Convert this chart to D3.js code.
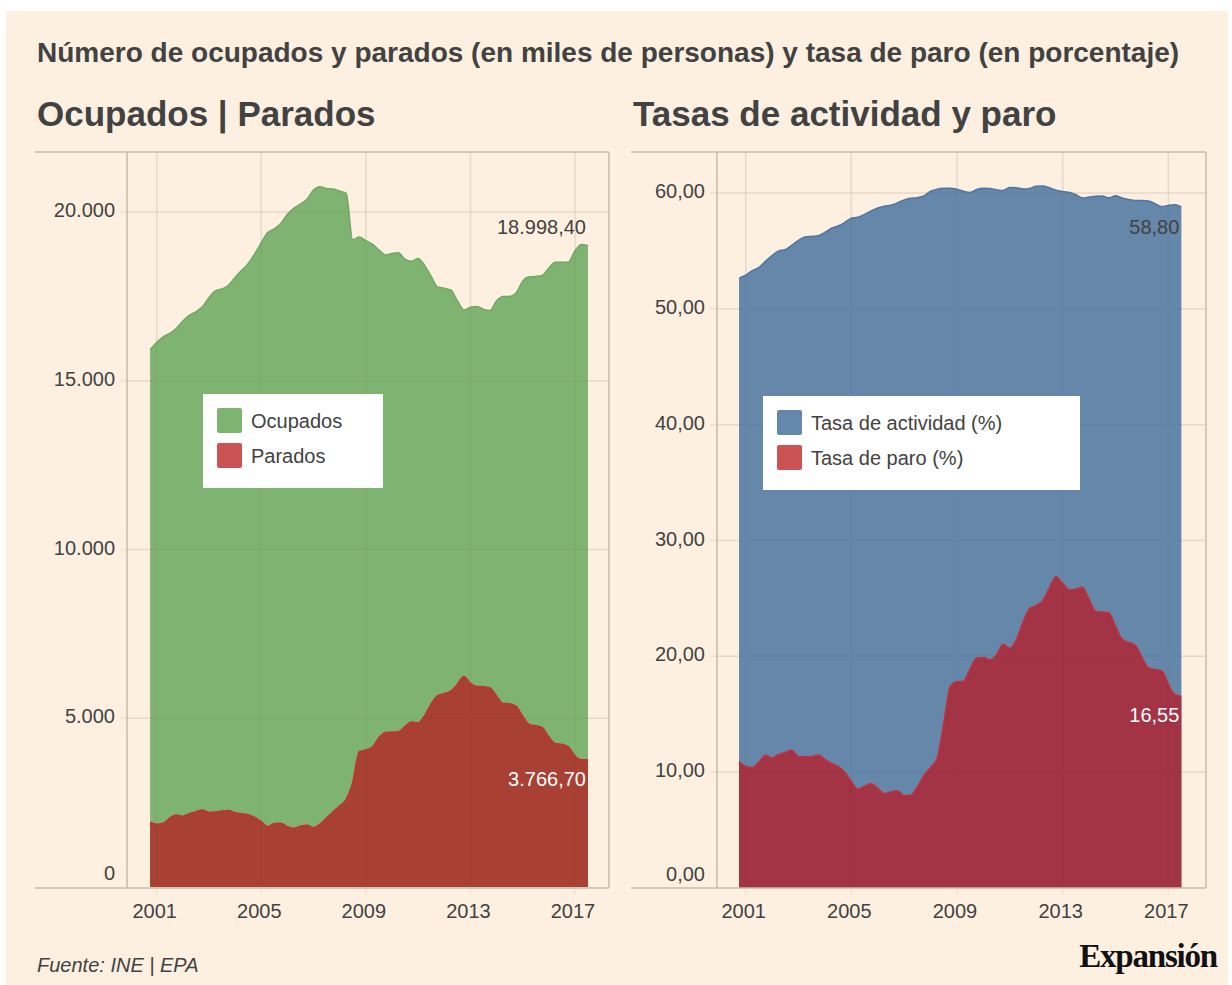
<!DOCTYPE html>
<html>
<head>
<meta charset="utf-8">
<script src="https://cdn.jsdelivr.net/npm/d3@7"></script>
<style>
    html, body { margin: 0; padding: 0; background: #ffffff; }
    svg { display: block; }
    text { font-family: "Liberation Sans", Arial, sans-serif; }
</style>
</head>
<body>
<svg id="chart"></svg>
<script>
// Quarters of the EPA survey (T = trimestre)
const quarters = [
    '2000T4',
    '2001T1', '2001T2', '2001T3', '2001T4', '2002T1', '2002T2', '2002T3', '2002T4',
    '2003T1', '2003T2', '2003T3', '2003T4', '2004T1', '2004T2', '2004T3', '2004T4',
    '2005T1', '2005T2', '2005T3', '2005T4', '2006T1', '2006T2', '2006T3', '2006T4',
    '2007T1', '2007T2', '2007T3', '2007T4', '2008T1', '2008T2', '2008T3', '2008T4',
    '2009T1', '2009T2', '2009T3', '2009T4', '2010T1', '2010T2', '2010T3', '2010T4',
    '2011T1', '2011T2', '2011T3', '2011T4', '2012T1', '2012T2', '2012T3', '2012T4',
    '2013T1', '2013T2', '2013T3', '2013T4', '2014T1', '2014T2', '2014T3', '2014T4',
    '2015T1', '2015T2', '2015T3', '2015T4', '2016T1', '2016T2', '2016T3', '2016T4',
    '2017T1', '2017T2', '2017T3'
]

// miles de personas
const ocupados = [
    15920,
    16130, 16300, 16400, 16550, 16770, 16940, 17040, 17190,
    17460, 17660, 17720, 17830, 18060, 18270, 18470, 18760,
    19090, 19390, 19500, 19660, 19930, 20110, 20230, 20380,
    20650, 20750, 20700, 20680, 20620, 20550, 19180, 19260,
    19150, 19050, 18880, 18726, 18770, 18790, 18600, 18540,
    18620, 18420, 18100, 17780, 17740, 17689, 17380, 17096,
    17180, 17200, 17120, 17080, 17370, 17500, 17500, 17600,
    17950, 18080, 18090, 18120, 18340, 18509, 18509, 18520,
    18850, 19040, 18998.4
]
const parados = [
    1920,
    1860, 1890, 2040, 2130, 2100, 2175, 2230, 2280,
    2210, 2220, 2255, 2270, 2200, 2170, 2140, 2060,
    1930, 1790, 1880, 1890, 1790, 1740, 1800, 1830,
    1758, 1860, 2040, 2230, 2400, 2600, 3100, 4010,
    4060, 4150, 4420, 4580, 4590, 4600, 4760, 4890,
    4860, 5080, 5420, 5670, 5730, 5807, 6000, 6240,
    6034, 5940, 5936, 5900, 5660, 5440, 5430, 5350,
    5060, 4820, 4780, 4720, 4450, 4250, 4230, 4150,
    3880, 3770, 3766.7
]
// porcentaje
const tasaActividad = [
    52.65,
    52.90, 53.30, 53.55, 54.10, 54.60, 55.00, 55.10, 55.50,
    55.90, 56.20, 56.25, 56.30, 56.60, 56.96, 57.15, 57.45,
    57.83, 57.91, 58.15, 58.45, 58.70, 58.85, 58.95, 59.15,
    59.40, 59.55, 59.60, 59.75, 60.15, 60.32, 60.40, 60.42,
    60.32, 60.15, 60.05, 60.30, 60.42, 60.38, 60.28, 60.22,
    60.48, 60.45, 60.35, 60.40, 60.58, 60.60, 60.45, 60.25,
    60.12, 60.07, 59.85, 59.56, 59.65, 59.72, 59.74, 59.58,
    59.76, 59.58, 59.45, 59.35, 59.36, 59.30, 59.08, 58.84,
    58.93, 58.98, 58.80
]
const tasaParo = [
    10.91,
    10.50, 10.40, 10.85, 11.45, 11.22, 11.52, 11.70, 11.90,
    11.34, 11.34, 11.34, 11.49, 11.10, 10.75, 10.50, 10.00,
    9.20, 8.52, 8.80, 9.00, 8.60, 8.15, 8.30, 8.40,
    7.97, 8.00, 8.70, 9.70, 10.40, 11.20, 14.20, 17.40,
    17.80, 17.85, 18.90, 19.85, 19.89, 19.69, 20.12, 21.04,
    20.70, 21.42, 22.90, 24.10, 24.40, 24.80, 25.90, 26.88,
    26.30, 25.75, 25.80, 25.96, 24.90, 23.90, 23.82, 23.77,
    22.60, 21.50, 21.20, 20.95, 19.95, 19.00, 18.85, 18.76,
    17.60, 16.70, 16.55
]

const yearTicks = [2001, 2005, 2009, 2013, 2017]
const leftTicks = [0, 5000, 10000, 15000, 20000]
const rightTicks = [0, 10, 20, 30, 40, 50, 60]

const W = 1232, H = 985
const textColor = '#424242'
const frameColor = '#c9bba9'
const gridColor = '#efe2d2'

let es = d3.formatLocale({decimal: ',', thousands: '.', grouping: [3], currency: ['', '€']})

let parseQuarter = q => {
    let y = +q.slice(0, 4), t = +q.slice(5)
    return new Date(y, (t - 1) * 3, 1)
}
let dates = quarters.map(parseQuarter)

let svg = d3.select('#chart').attr('width', W).attr('height', H)

svg.append('rect').attr('x', 6).attr('y', 11).attr('width', 1222).attr('height', 974)
    .attr('fill', '#fdf0e0')

svg.append('text')
    .attr('x', 37).attr('y', 62)
    .attr('font-size', 28).attr('font-weight', 'bold').attr('fill', textColor)
    .text('Número de ocupados y parados (en miles de personas) y tasa de paro (en porcentaje)')

function panel(cfg) {
    let g = svg.append('g')
    let x = d3.scaleTime()
        .domain([new Date(2001, 0, 1), new Date(2017, 0, 1)])
        .range(cfg.xRange)
    let y = d3.scaleLinear().domain(cfg.yDomain).range(cfg.yRange)

    g.append('text')
        .attr('x', cfg.left + 2).attr('y', 126)
        .attr('font-size', 35).attr('font-weight', 'bold').attr('fill', textColor)
        .text(cfg.heading)

    // grid
    g.selectAll('line.hgrid').data(cfg.ticks.filter(d => d > 0)).enter().append('line')
        .attr('x1', cfg.axisX - 7).attr('x2', cfg.right)
        .attr('y1', d => y(d)).attr('y2', d => y(d))
        .attr('stroke', gridColor).attr('stroke-width', 1.5)
    g.selectAll('line.vgrid').data(yearTicks).enter().append('line')
        .attr('x1', d => x(new Date(d, 0, 1))).attr('x2', d => x(new Date(d, 0, 1)))
        .attr('y1', cfg.top).attr('y2', cfg.bottom + 6)
        .attr('stroke', gridColor).attr('stroke-width', 1.5)

    let series = [
        {values: cfg.back, fill: cfg.backColor, edge: cfg.backEdge},
        {values: cfg.front, fill: cfg.frontColor, edge: cfg.frontEdge},
    ]
    series.forEach(s => {
        let area = d3.area()
            .x((d, i) => x(dates[i]))
            .y0(y(0))
            .y1(d => y(d))
            .curve(d3.curveMonotoneX)
        let line = d3.line()
            .x((d, i) => x(dates[i]))
            .y(d => y(d))
            .curve(d3.curveMonotoneX)
        g.append('path').attr('d', area(s.values)).attr('fill', s.fill)
        g.append('path').attr('d', line(s.values)).attr('fill', 'none')
            .attr('stroke', s.edge).attr('stroke-width', 1.5)
    })

    // faint grid showing through the areas
    g.selectAll('line.vgrid2').data(yearTicks).enter().append('line')
        .attr('x1', d => x(new Date(d, 0, 1))).attr('x2', d => x(new Date(d, 0, 1)))
        .attr('y1', cfg.top).attr('y2', cfg.bottom)
        .attr('stroke', 'rgba(80,60,40,0.05)').attr('stroke-width', 1.5)
    g.selectAll('line.hgrid2').data(cfg.ticks.filter(d => d > 0)).enter().append('line')
        .attr('x1', cfg.axisX).attr('x2', cfg.right)
        .attr('y1', d => y(d)).attr('y2', d => y(d))
        .attr('stroke', 'rgba(80,60,40,0.05)').attr('stroke-width', 1.5)

    // frame
    let frame = [
        [cfg.left, cfg.top, cfg.right, cfg.top],
        [cfg.right, cfg.top, cfg.right, cfg.bottom],
        [cfg.left, cfg.bottom, cfg.right, cfg.bottom],
        [cfg.axisX, cfg.top, cfg.axisX, cfg.bottom],
    ]
    g.selectAll('line.frame').data(frame).enter().append('line')
        .attr('x1', d => d[0]).attr('y1', d => d[1]).attr('x2', d => d[2]).attr('y2', d => d[3])
        .attr('stroke', frameColor).attr('stroke-width', 1.5)

    // y labels
    g.selectAll('text.ylab').data(cfg.ticks).enter().append('text')
        .attr('x', cfg.axisX - 12)
        .attr('y', d => y(d) + (d === 0 ? -14 : -2))
        .attr('dy', '0.35em')
        .attr('text-anchor', 'end')
        .attr('font-size', 20).attr('fill', textColor)
        .text(cfg.fmt)

    // x labels
    g.selectAll('text.xlab').data(yearTicks).enter().append('text')
        .attr('x', d => x(new Date(d, 0, 1)) - 2)
        .attr('y', 918)
        .attr('text-anchor', 'middle')
        .attr('font-size', 20).attr('fill', textColor)
        .text(d => d)

    // end labels
    let n = dates.length - 1
    let lx = x(dates[n]) - 2
    g.append('text').attr('x', lx).attr('y', y(cfg.back[n]) + cfg.backDy)
        .attr('text-anchor', 'end').attr('font-size', 20).attr('fill', cfg.backLabelColor)
        .text(cfg.labelFmt(cfg.back[n]))
    g.append('text').attr('x', lx).attr('y', y(cfg.front[n]) + 26)
        .attr('text-anchor', 'end').attr('font-size', 20).attr('fill', '#ffffff')
        .text(cfg.labelFmt(cfg.front[n]))

    // legend
    let leg = g.append('g').attr('transform', `translate(${cfg.legend.x},${cfg.legend.y})`)
    leg.append('rect').attr('width', cfg.legend.w).attr('height', 94).attr('fill', '#ffffff')
    cfg.legend.items.forEach((it, i) => {
        leg.append('rect')
            .attr('x', 14).attr('y', 14 + i * 35)
            .attr('width', 25).attr('height', 25).attr('rx', 2)
            .attr('fill', it.color)
        leg.append('text')
            .attr('x', 48).attr('y', 26.5 + i * 35).attr('dy', '0.35em')
            .attr('font-size', 20).attr('fill', textColor)
            .text(it.name)
    })
}

panel({
    heading: 'Ocupados | Parados',
    left: 35, right: 609, top: 152, bottom: 888, axisX: 127,
    xRange: [156.7, 575],
    yDomain: [0, 20000], yRange: [887, 212],
    ticks: leftTicks,
    fmt: es.format(',.0f'),
    labelFmt: es.format(',.2f'),
    back: ocupados, backColor: '#7fb372', backEdge: '#72a865', backDy: -12, backLabelColor: textColor,
    front: parados, frontColor: '#a84034', frontEdge: '#c0352c',
    legend: {x: 203, y: 394, w: 180, items: [
        {name: 'Ocupados', color: '#7fb372'},
        {name: 'Parados', color: '#cc5353'},
    ]},
})

panel({
    heading: 'Tasas de actividad y paro',
    left: 631, right: 1206, top: 152, bottom: 888, axisX: 717,
    xRange: [745.7, 1168.3],
    yDomain: [0, 60], yRange: [888, 193],
    ticks: rightTicks,
    fmt: es.format(',.2f'),
    labelFmt: es.format(',.2f'),
    back: tasaActividad, backColor: '#6487aa', backEdge: '#4f76a2', backDy: 27, backLabelColor: textColor,
    front: tasaParo, frontColor: '#a33445', frontEdge: '#c22f3e',
    legend: {x: 763, y: 396, w: 317, items: [
        {name: 'Tasa de actividad (%)', color: '#6488ad'},
        {name: 'Tasa de paro (%)', color: '#cc5353'},
    ]},
})

svg.append('text')
    .attr('x', 37).attr('y', 972)
    .attr('font-size', 20).attr('font-style', 'italic').attr('fill', textColor)
    .text('Fuente: INE | EPA')

svg.append('text')
    .attr('x', 1217).attr('y', 967)
    .attr('text-anchor', 'end')
    .style('font-family', '"Liberation Serif", "DejaVu Serif", serif')
    .attr('font-size', 33).attr('font-weight', 'bold').attr('letter-spacing', -1.2)
    .attr('fill', '#111111')
    .text('Expansión')
</script>
</body>
</html>
